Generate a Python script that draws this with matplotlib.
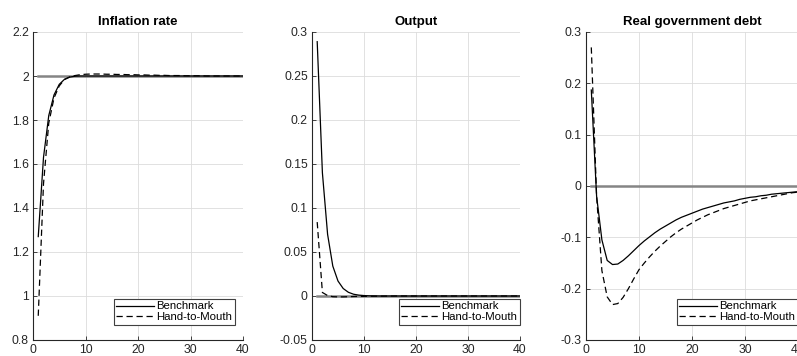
import numpy as np
import matplotlib
matplotlib.use("Agg")
import matplotlib.pyplot as plt
from matplotlib.ticker import FixedLocator, FuncFormatter

plt.rcParams['font.family'] = ['Liberation Sans', 'DejaVu Sans']
plt.rcParams['axes.unicode_minus'] = False

quarters = np.arange(1, 41)

infl_bench = [1.27, 1.63, 1.82, 1.914, 1.962, 1.985, 1.995, 1.999, 2.0, 2.0,
              2.0, 2.0, 2.0, 2.0, 2.0, 2.0, 2.0, 2.0, 2.0, 2.0,
              2.0, 2.0, 2.0, 2.0, 2.0, 2.0, 2.0, 2.0, 2.0, 2.0,
              2.0, 2.0, 2.0, 2.0, 2.0, 2.0, 2.0, 2.0, 2.0, 2.0]
infl_htm = [0.91, 1.51, 1.786, 1.9, 1.955, 1.984, 1.996, 2.002, 2.006, 2.008,
            2.009, 2.009, 2.009, 2.008, 2.008, 2.007, 2.007, 2.006, 2.006, 2.005,
            2.005, 2.004, 2.004, 2.003, 2.003, 2.002, 2.002, 2.002, 2.001, 2.001,
            2.001, 2.001, 2.0, 2.0, 2.0, 2.0, 2.0, 2.0, 2.0, 2.0]

out_bench = [0.289, 0.14, 0.07, 0.034, 0.017, 0.0085, 0.0042, 0.002, 0.001, 0.0005,
             0.0002, 0.0001, 0.0, 0.0, 0.0, 0.0, 0.0, 0.0, 0.0, 0.0,
             0.0, 0.0, 0.0, 0.0, 0.0, 0.0, 0.0, 0.0, 0.0, 0.0,
             0.0, 0.0, 0.0, 0.0, 0.0, 0.0, 0.0, 0.0, 0.0, 0.0]
out_htm = [0.084, 0.004, 0.0005, -0.0008, -0.001, -0.001, -0.0008, -0.0006, -0.0005, -0.0004,
           -0.0003, -0.0002, -0.0002, -0.0001, -0.0001, 0.0, 0.0, 0.0, 0.0, 0.0,
           0.0, 0.0, 0.0, 0.0, 0.0, 0.0, 0.0, 0.0, 0.0, 0.0,
           0.0, 0.0, 0.0, 0.0, 0.0, 0.0, 0.0, 0.0, 0.0, 0.0]

debt_bench = [0.187, -0.02, -0.105, -0.145, -0.153, -0.152, -0.145, -0.136, -0.126, -0.116,
              -0.107, -0.099, -0.091, -0.084, -0.078, -0.072, -0.066, -0.061, -0.057, -0.053,
              -0.049, -0.045, -0.042, -0.039, -0.036, -0.033, -0.031, -0.029, -0.026, -0.024,
              -0.022, -0.021, -0.019, -0.018, -0.016, -0.015, -0.014, -0.013, -0.012, -0.011]
debt_htm = [0.27, -0.02, -0.165, -0.216, -0.231, -0.229, -0.217, -0.2, -0.181, -0.163,
            -0.15, -0.138, -0.127, -0.117, -0.108, -0.099, -0.091, -0.084, -0.078, -0.072,
            -0.066, -0.061, -0.056, -0.052, -0.048, -0.044, -0.041, -0.038, -0.035, -0.032,
            -0.029, -0.027, -0.025, -0.023, -0.021, -0.019, -0.017, -0.015, -0.013, -0.012]

steady = [2.0, 0.0, 0.0]
titles = ['Inflation rate', 'Output', 'Real government debt']
ylims = [(0.8, 2.2), (-0.05, 0.3), (-0.3, 0.3)]
ysteps = [0.2, 0.05, 0.1]
labels = ['Benchmark', 'Hand-to-Mouth']

fig = plt.figure(figsize=(7.97, 3.56), dpi=100)
lefts = [33 / 797, 312 / 797, 586 / 797]
widths = [210 / 797, 208 / 797, 212 / 797]
legend_right = [0.962, 1.0, 1.0]
bottom = 1 - 340 / 356
height = 308 / 356

series = [(infl_bench, infl_htm), (out_bench, out_htm), (debt_bench, debt_htm)]

fmt = FuncFormatter(lambda v, p: '%g' % round(v, 4))

for i in range(3):
    ax = fig.add_axes([lefts[i], bottom, widths[i], height])
    bench, htm = series[i]
    ax.plot([1, 40], [steady[i], steady[i]], color='#858585', lw=1.8, zorder=2)
    ax.plot(quarters, bench, color='black', lw=0.9, label=labels[0], zorder=3)
    ax.plot(quarters, htm, color='black', lw=0.9, ls=(0, (5, 3)), label=labels[1], zorder=3)
    ax.set_xlim(0, 40)
    lo, hi = ylims[i]
    ax.set_ylim(lo, hi)
    ax.xaxis.set_major_locator(FixedLocator([0, 10, 20, 30, 40]))
    n = int(round((hi - lo) / ysteps[i]))
    ax.yaxis.set_major_locator(FixedLocator([lo + k * ysteps[i] for k in range(n + 1)]))
    ax.yaxis.set_major_formatter(fmt)
    ax.grid(True, color='#dcdcdc', lw=0.6)
    ax.set_axisbelow(True)
    for s in ['top', 'right']:
        ax.spines[s].set_visible(False)
    for s in ['left', 'bottom']:
        ax.spines[s].set_color('#262626')
        ax.spines[s].set_linewidth(0.8)
    ax.tick_params(direction='in', length=3, width=0.6, colors='#262626',
                   labelsize=8.8, pad=3)
    ax.set_title(titles[i], fontsize=9.5, fontweight='bold', pad=5)
    leg = ax.legend(loc='lower right', bbox_to_anchor=(legend_right[i], 0.049),
                    borderaxespad=0, fontsize=8.2, handlelength=3.3,
                    handletextpad=0.2, labelspacing=0.05, borderpad=0.25,
                    fancybox=False, framealpha=1)
    leg.get_frame().set_edgecolor('#404040')
    leg.get_frame().set_linewidth(0.8)

fig.savefig('out.png', dpi=100)
